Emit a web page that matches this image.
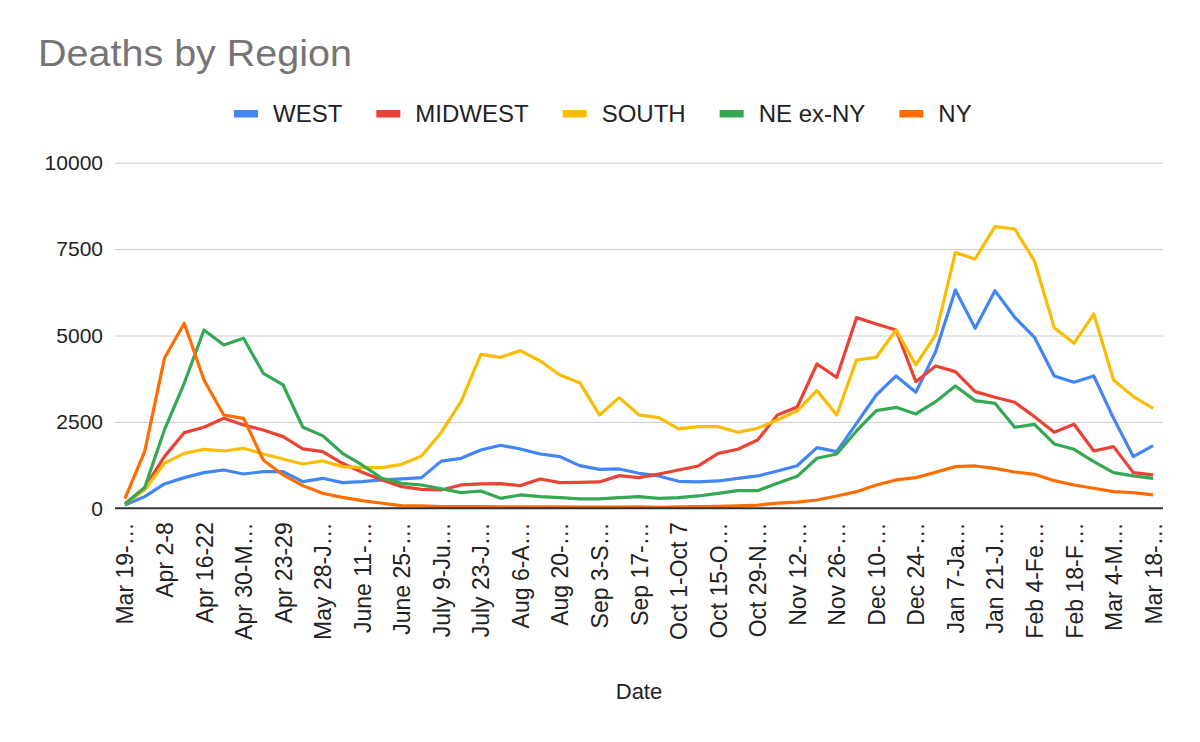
<!DOCTYPE html>
<html>
<head>
<meta charset="utf-8">
<script src="https://cdn.jsdelivr.net/npm/d3@7"></script>
<style>
  body { margin: 0; background: #fff; }
  svg { display: block; font-family: "Liberation Sans", Arial, sans-serif; }
</style>
</head>
<body>
<div id="chart"></div>
<script>
// Plot constants
const WIDTH = 1200;
const HEIGHT = 742;
const margin = {top: 162.7, right: 37, bottom: 233.7, left: 115};

// Weekly categories (the source sheet repeats "Apr 23-29" at index 8)
const weeks = [
  "Mar 19-25", "Mar 26-Apr 1", "Apr 2-8", "Apr 9-15", "Apr 16-22", "Apr 23-29",
  "Apr 30-May 6", "May 7-13", "Apr 23-29", "May 21-27", "May 28-June 3",
  "June 4-10", "June 11-17", "June 18-24", "June 25-July 1", "July 2-8",
  "July 9-July 15", "July 16-22", "July 23-July 29", "July 30-Aug 5",
  "Aug 6-Aug 12", "Aug 13-19", "Aug 20-Aug 26", "Aug 27-Sep 2", "Sep 3-Sep 9",
  "Sep 10-16", "Sep 17-Sep 23", "Sep 24-30", "Oct 1-Oct 7", "Oct 8-14",
  "Oct 15-Oct 21", "Oct 22-28", "Oct 29-Nov 4", "Nov 5-11", "Nov 12-Nov 18",
  "Nov 19-25", "Nov 26-Dec 2", "Dec 3-9", "Dec 10-Dec 16", "Dec 17-23",
  "Dec 24-Dec 30", "Dec 31-Jan 6", "Jan 7-Jan 13", "Jan 14-20", "Jan 21-Jan 27",
  "Jan 28-Feb 3", "Feb 4-Feb 10", "Feb 11-17", "Feb 18-Feb 24", "Feb 25-Mar 3",
  "Mar 4-Mar 10", "Mar 11-17", "Mar 18-Mar 24",
];

// Tick labels as shown (every other week, truncated)
const tickLabels = [
  "Mar 19-…", "Apr 2-8", "Apr 16-22", "Apr 30-M…", "Apr 23-29", "May 28-J…",
  "June 11-…", "June 25-…", "July 9-Ju…", "July 23-J…", "Aug 6-A…", "Aug 20-…",
  "Sep 3-S…", "Sep 17-…", "Oct 1-Oct 7", "Oct 15-O…", "Oct 29-N…", "Nov 12-…",
  "Nov 26-…", "Dec 10-…", "Dec 24-…", "Jan 7-Ja…", "Jan 21-J…", "Feb 4-Fe…",
  "Feb 18-F…", "Mar 4-M…", "Mar 18-…",
];

const yTicks = [0, 2500, 5000, 7500, 10000];

const seriesNames = ["WEST", "MIDWEST", "SOUTH", "NE ex-NY", "NY"];
const seriesColors = ["#4285f4", "#ea4335", "#fbbc04", "#34a853", "#ff6d01"];

const west = [
  96, 338, 704, 887, 1032, 1109, 993, 1061, 1061, 772, 868, 743, 772, 820, 849,
  887, 1365, 1447, 1688, 1823, 1717, 1572, 1495, 1235, 1128, 1138, 1013, 936,
  781, 762, 791, 868, 936, 1080, 1230, 1755, 1640, 2459, 3279, 3829, 3357, 4533,
  6317, 5208, 6298, 5526, 4948, 3829, 3646, 3829, 2604, 1495, 1813,
];
const midwest = [
  125, 598, 1495, 2189, 2344, 2604, 2411, 2267, 2074, 1717, 1640, 1302, 1042,
  820, 627, 550, 530, 675, 704, 714, 656, 849, 743, 752, 762, 945, 887, 993,
  1109, 1225, 1591, 1707, 1977, 2701, 2932, 4176, 3790, 5517, 5334, 5160, 3665,
  4118, 3954, 3376, 3212, 3067, 2652, 2199, 2430, 1659, 1784, 1032, 965,
];
const south = [
  125, 530, 1302, 1591, 1707, 1659, 1736, 1572, 1427, 1283, 1370, 1206, 1177,
  1177, 1273, 1514, 2194, 3086, 4456, 4369, 4562, 4263, 3858, 3636, 2701, 3202,
  2701, 2623, 2296, 2363, 2363, 2199, 2315, 2556, 2821, 3405, 2701, 4292, 4369,
  5160, 4147, 5015, 7398, 7214, 8150, 8082, 7156, 5227, 4774, 5623, 3713, 3231,
  2894,
];
const neExNy = [
  125, 598, 2267, 3617, 5160, 4726, 4919, 3906, 3569, 2344, 2103, 1591, 1254,
  868, 723, 675, 565, 453, 500, 289, 386, 338, 309, 270, 270, 309, 338, 289, 309,
  357, 434, 511, 511, 723, 925, 1447, 1572, 2238, 2826, 2922, 2730, 3086, 3540,
  3115, 3038, 2344, 2430, 1861, 1707, 1350, 1032, 936, 868,
];
const ny = [
  280, 1640, 4340, 5353, 3713, 2700, 2604, 1398, 965, 656, 434, 318, 222, 145,
  77, 68, 48, 50, 50, 45, 40, 45, 40, 35, 35, 35, 40, 30, 40, 50, 55, 70, 90, 150,
  180, 241, 357, 482, 675, 820, 887, 1042, 1206, 1225, 1157, 1051, 984, 800, 675,
  579, 482, 453, 386,
];

const seriesValues = [west, midwest, south, neExNy, ny];

// Visualization canvas
const svg = d3
  .select("#chart")
  .append("svg")
  .attr("width", WIDTH)
  .attr("height", HEIGHT);

svg.append("rect").attr("width", WIDTH).attr("height", HEIGHT).attr("fill", "#fff");

const x = d3
  .scalePoint()
  .domain(d3.range(weeks.length))
  .range([margin.left, WIDTH - margin.right])
  .padding(0.5);

const y = d3
  .scaleLinear()
  .domain([0, 10000])
  .range([HEIGHT - margin.bottom, margin.top]);

// Title
svg
  .append("text")
  .attr("x", 38)
  .attr("y", 66)
  .attr("font-size", "37px")
  .attr("fill", "#757575")
  .attr("textLength", 314)
  .attr("lengthAdjust", "spacingAndGlyphs")
  .text("Deaths by Region");

// Gridlines + y labels
const yAxis = d3
  .axisLeft(y)
  .tickValues(yTicks)
  .tickSize(-(WIDTH - margin.left - margin.right))
  .tickPadding(12)
  .tickFormat(d3.format("d"));

const gy = svg
  .append("g")
  .attr("transform", `translate(${margin.left},0)`)
  .call(yAxis);
gy.select(".domain").remove();
gy.selectAll(".tick line").attr("stroke", "#cccccc").attr("stroke-width", 1);
gy.selectAll(".tick text")
  .attr("font-size", "21px")
  .attr("fill", "#222")
  .attr("font-family", "Liberation Sans, Arial, sans-serif");
gy.selectAll(".tick")
  .filter((d) => d === 0)
  .select("line")
  .remove();

// X axis with every other week labelled
const xAxis = d3
  .axisBottom(x)
  .tickValues(d3.range(0, weeks.length, 2))
  .tickSize(0)
  .tickFormat((d) => tickLabels[d / 2]);

const gx = svg
  .append("g")
  .attr("transform", `translate(0,${y(0)})`)
  .call(xAxis);
gx.select(".domain").remove();
gx.selectAll(".tick text")
  .attr("font-size", "23px")
  .attr("fill", "#222")
  .attr("font-family", "Liberation Sans, Arial, sans-serif")
  .attr("text-anchor", "end")
  .attr("transform", "translate(0,14) rotate(-90)")
  .attr("x", 0)
  .attr("y", 0)
  .attr("dy", "0.35em");

svg
  .append("text")
  .attr("x", (margin.left + WIDTH - margin.right) / 2)
  .attr("y", 699)
  .attr("text-anchor", "middle")
  .attr("font-size", "22px")
  .attr("fill", "#222")
  .text("Date");

// Lines
const line = d3
  .line()
  .x((d, i) => x(i))
  .y((d) => y(d));

svg
  .append("g")
  .selectAll("path")
  .data(seriesValues)
  .join("path")
  .attr("d", line)
  .attr("fill", "none")
  .attr("stroke", (d, i) => seriesColors[i])
  .attr("stroke-width", 3.2)
  .attr("stroke-linejoin", "round");

// Baseline on top
svg
  .append("line")
  .attr("x1", margin.left)
  .attr("x2", WIDTH - margin.right)
  .attr("y1", y(0))
  .attr("y2", y(0))
  .attr("stroke", "#333")
  .attr("stroke-width", 2);

// Legend
const legend = svg.append("g").attr("font-size", "24px").attr("fill", "#222");
let lx = 234;
seriesNames.forEach((name, i) => {
  legend
    .append("rect")
    .attr("x", lx)
    .attr("y", 110)
    .attr("width", 24)
    .attr("height", 7.5)
    .attr("fill", seriesColors[i]);
  const t = legend
    .append("text")
    .attr("x", lx + 39)
    .attr("y", 121.5)
    .text(name);
  lx += 39 + t.node().getComputedTextLength() + 34;
});
</script>
</body>
</html>
